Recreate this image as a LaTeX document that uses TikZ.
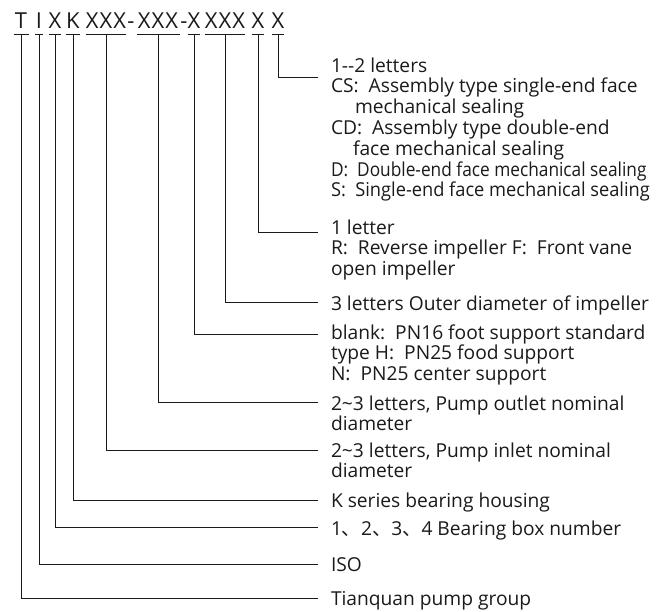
\documentclass[tikz,border=0pt]{standalone}
\usepackage{fontspec}
\setmainfont{Open Sans}
\newfontfamily\cjk{Noto Sans CJK SC}
\usepackage{graphicx}
\usepackage{xcolor}
\definecolor{inkgray}{HTML}{1A1A1A}

\begin{document}
\begin{tikzpicture}[x=1pt,y=-1pt,line width=0.8pt,color=inkgray,
  hdr/.style={inner sep=0,outer sep=0,anchor=south,text height=15pt,text depth=5pt,font=\fontsize{22}{24}\selectfont},
  desc/.style={anchor=north west,inner sep=0,outer sep=0,align=left,font=\fontsize{19.2}{20.8}\selectfont,execute at begin node=\strut}]
\useasboundingbox (0,0) rectangle (665,612);
\node[hdr,minimum width=15] (hT) at (21,34) {T};
\node[hdr,minimum width=8] (hI) at (39,34) {I};
\node[hdr,minimum width=12] (hNo) at (55,34) {X};
\node[hdr,minimum width=12] (hK) at (73,34) {K};
\node[hdr,minimum width=40] (hIn) at (106,34) {X\kern1pt X\kern1pt X};
\node[hdr] (d1) at (131,34) {-};
\node[hdr,minimum width=43] (hOut) at (158,34) {X\kern1pt X\kern1pt X};
\node[hdr] (d2) at (184,34) {-};
\node[hdr,minimum width=12] (hSup) at (194,34) {X};
\node[hdr,minimum width=40] (hDia) at (225,34) {X\kern1pt X\kern1pt X};
\node[hdr,minimum width=10] (hImp) at (258,34) {X};
\node[hdr,minimum width=11] (hSeal) at (278,34) {X};
\foreach \n in {hT,hI,hNo,hK,hIn,hOut,hSup,hDia,hImp,hSeal}
  \draw (\n.south west) -- (\n.south east);
\coordinate (eSeal) at (318,77);
\coordinate (eImp) at (318,232);
\coordinate (eDia) at (318,302);
\coordinate (eSup) at (318,334);
\coordinate (eOut) at (318,402);
\coordinate (eIn) at (318,450);
\coordinate (eK) at (318,500);
\coordinate (eNo) at (318,527);
\coordinate (eI) at (318,564);
\coordinate (eT) at (318,598);
\foreach \n/\e in {hT/eT,hI/eI,hNo/eNo,hK/eK,hIn/eIn,hOut/eOut,hSup/eSup,hDia/eDia,hImp/eImp,hSeal/eSeal}
  \draw (\n.south) |- (\e);
\node[desc] (tSeal) at (331,57.5) {1-{}-2 letters\\
  CS:~~Assembly type single-end face\\
  \hspace{24pt}mechanical sealing\\
  CD:~~Assembly type double-end\\
  \hspace{22pt}face mechanical sealing\\
  \scalebox{0.9}[1]{D:~~Double-end face mechanical sealing}\\
  \scalebox{0.95}[1]{S:~~Single-end face mechanical sealing}};
\node[desc] (tImp) at (331,219.5) {1 letter\\R:~~Reverse impeller F:~~Front vane\\open impeller};
\node[desc] (tDia) at (331,295.5) {3 letters Outer diameter of impeller};
\node[desc] (tSup) at (331,324.5) {blank:~~PN16 foot support standard\\type H:~~PN25 food support\\N:~~PN25 center support};
\node[desc] (tOut) at (331,395.5) {2\textasciitilde3 letters, Pump outlet nominal\\diameter};
\node[desc] (tIn) at (331,442.5) {2\textasciitilde3 letters, Pump inlet nominal\\diameter};
\node[desc] (tK) at (331,492.5) {K series bearing housing};
\node[desc] (tNo) at (331,520.5) {1{\cjk 、}2{\cjk 、}3{\cjk 、}4 Bearing box number};
\node[desc] (tI) at (331,557) {ISO};
\node[desc] (tT) at (331,591) {Tianquan pump group};
\end{tikzpicture}
\end{document}
